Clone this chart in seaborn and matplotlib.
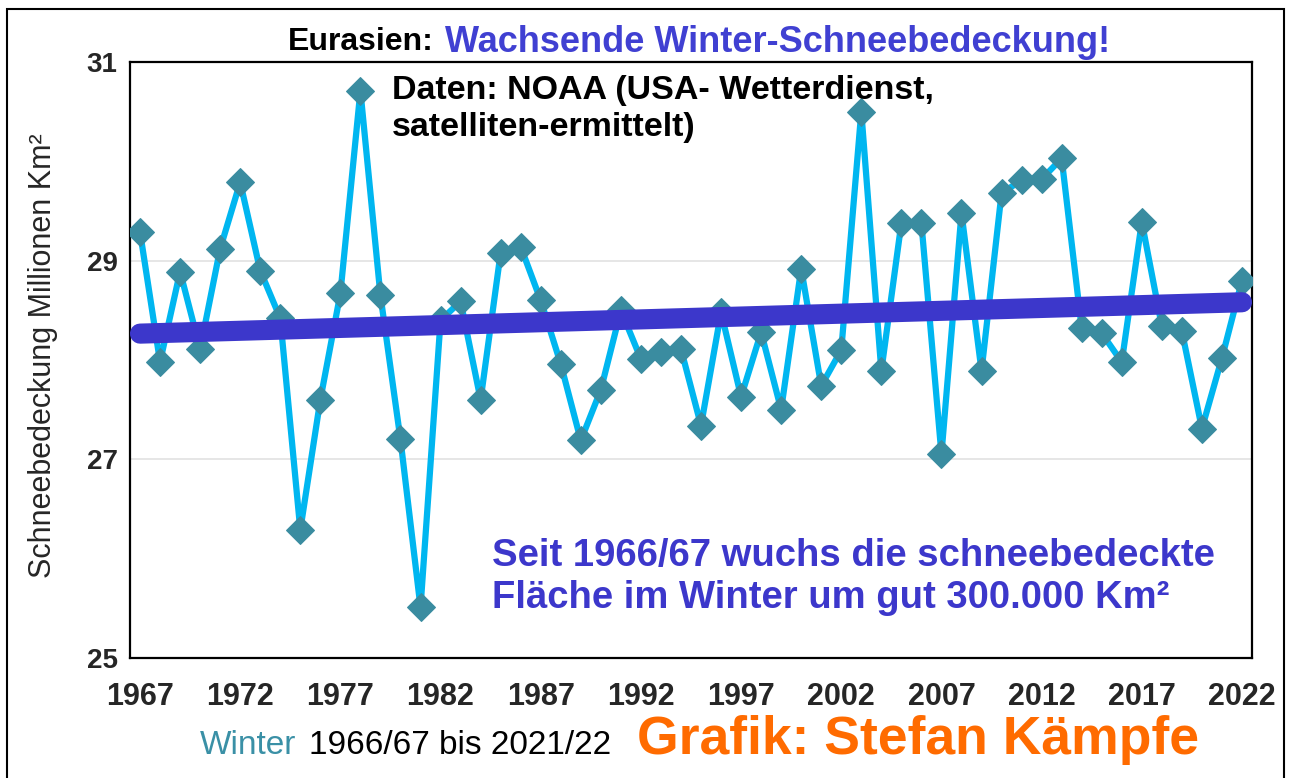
import numpy as np
import pandas as pd
import seaborn as sns
import matplotlib.pyplot as plt
from matplotlib.patches import Rectangle

# Winter-Schneebedeckung Eurasien (Mio. km²), Winter 1966/67 .. 2021/22
years = list(range(1967, 2023))
snow = [29.29, 27.98, 28.89, 28.11, 29.12, 29.79, 28.90, 28.42, 26.29, 27.60,
        28.67, 30.71, 28.65, 27.20, 25.51, 28.40, 28.59, 27.60, 29.08, 29.14,
        28.60, 27.96, 27.19, 27.70, 28.50, 28.01, 28.08, 28.11, 27.34, 28.48,
        27.63, 28.28, 27.50, 28.92, 27.74, 28.10, 30.50, 27.89, 29.38, 29.38,
        27.05, 29.48, 27.89, 29.68, 29.81, 29.82, 30.03, 28.32, 28.27, 27.98,
        29.39, 28.34, 28.29, 27.31, 28.02, 28.80]
y_ticks = [25, 27, 29, 31]
label_years = years[::5]

df = pd.DataFrame({'pos': np.arange(len(years)), 'year': years, 'snow': snow})

sns.set_theme(style='white')
plt.rcParams['font.family'] = ['Liberation Sans', 'DejaVu Sans']

fig = plt.figure(figsize=(12.9, 7.78), dpi=100)
ax = fig.add_axes([130/1290, 1-658/778, 1122/1290, 596/778])

# Datenreihe
sns.lineplot(data=df, x='pos', y='snow', ax=ax, color='#00B6F0', lw=4.5,
             marker='D', markersize=14, markerfacecolor='#3A8CA0',
             markeredgecolor='#3A8CA0', zorder=3)
# linearer Trend
sns.regplot(data=df, x='pos', y='snow', ax=ax, scatter=False, ci=None,
            truncate=True, color='#3C37CB',
            line_kws=dict(lw=14.5, solid_capstyle='round', zorder=4))

ax.set_xlim(-0.5, len(years) - 0.5)
ax.set_ylim(25, 31)
ax.set_yticks(y_ticks)
ax.set_yticklabels([str(t) for t in y_ticks], fontsize=20, fontweight='bold')
ax.set_xticks(df['pos'][::5])
ax.set_xticklabels([str(y) for y in label_years], fontsize=22, fontweight='bold')
ax.set_xticks(np.arange(-0.5, len(years) - 1, 5), minor=True)
ax.tick_params(axis='x', which='major', length=0, pad=17)
ax.tick_params(axis='x', which='minor', length=8, width=1.5, direction='out', color='black')
ax.tick_params(axis='y', length=0, pad=9)
ax.grid(axis='y', color='#E2E2E2', lw=1.2)
for s in ax.spines.values():
    s.set_color('black')
    s.set_linewidth(1.6)
ax.set_xlabel('')
ax.set_ylabel('')

fig.text(43/1290, 1-356/778, 'Schneebedeckung Millionen Km²', rotation=90,
         ha='center', va='center', fontsize=22)

# Titel
fig.text(288/1290, 1-42/778, 'Eurasien:', fontsize=23, fontweight='bold',
         color='black', ha='left', va='center')
fig.text(445/1290, 1-42/778, 'Wachsende Winter-Schneebedeckung!', fontsize=26,
         fontweight='bold', color='#4040D2', ha='left', va='center')

fig.text(392/1290, 1-109/778, 'Daten: NOAA (USA- Wetterdienst,\nsatelliten-ermittelt)',
         fontsize=24.5, fontweight='bold', color='black', ha='left', va='center',
         linespacing=1.25)

fig.text(492/1290, 1-577/778,
         'Seit 1966/67 wuchs die schneebedeckte\nFläche im Winter um gut 300.000 Km²',
         fontsize=27.5, fontweight='bold', color='#3C37CB', ha='left', va='center',
         linespacing=1.22)

# Fußzeile
fig.text(200/1290, 1-746/778, 'Winter', fontsize=24, color='#3A90A6',
         ha='left', va='center')
fig.text(309/1290, 1-746/778, '1966/67 bis 2021/22', fontsize=24, color='black',
         ha='left', va='center')
fig.text(637/1290, 1-740/778, 'Grafik: Stefan Kämpfe', fontsize=38.5,
         fontweight='bold', color='#FF6B00', ha='left', va='center')

# Rahmen um die Grafik
fig.patches.append(Rectangle((7/1290, -0.05), 1277/1290, 1.05 - 9/778,
                             transform=fig.transFigure, fill=False,
                             ec='black', lw=1.5))

fig.savefig('out.png', dpi=100)
